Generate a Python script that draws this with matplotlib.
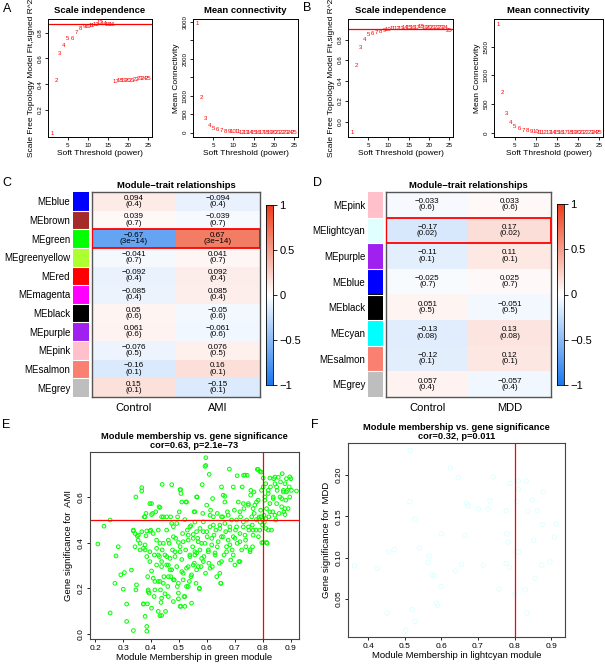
import numpy as np
import matplotlib
matplotlib.use("Agg")
import matplotlib.pyplot as plt
from matplotlib.colors import LinearSegmentedColormap, ListedColormap
from matplotlib.patches import Rectangle

plt.rcParams["font.family"] = ["Liberation Sans", "DejaVu Sans"]

W, H = 605, 668

# ---- soft threshold (A: AMI, B: MDD) ----
powers = list(range(1, 26))
a_fit = [0.02, 0.43, 0.64, 0.70, 0.75, 0.75, 0.80, 0.83, 0.85, 0.85, 0.855, 0.86, 0.88,
         0.87, 0.86, 0.86, 0.42, 0.425, 0.43, 0.43, 0.43, 0.435, 0.44, 0.44, 0.44]
a_conn = [2950, 950, 380, 190, 115, 75, 52, 38, 29, 22, 17, 13, 10, 8, 7, 5, 4, 4, 3, 3,
          2, 2, 2, 1, 1]
b_fit = [-0.11, 0.55, 0.72, 0.80, 0.85, 0.86, 0.87, 0.88, 0.89, 0.90, 0.905, 0.91, 0.91,
         0.915, 0.92, 0.92, 0.92, 0.925, 0.92, 0.92, 0.92, 0.915, 0.915, 0.915, 0.89]
b_conn = [1890, 700, 345, 185, 110, 72, 50, 37, 28, 21, 16, 13, 10, 8, 6, 5, 4, 4, 3, 3,
          2, 2, 2, 1, 1]
a_cut = 0.87
b_cut = 0.90

# ---- module-trait relationships ----
c_modules = ["MEblue", "MEbrown", "MEgreen", "MEgreenyellow", "MEred", "MEmagenta",
             "MEblack", "MEpurple", "MEpink", "MEsalmon", "MEgrey"]
c_colors = ["#0000FF", "#A52A2A", "#00FF00", "#ADFF2F", "#FF0000", "#FF00FF",
            "#000000", "#A020F0", "#FFC0CB", "#FA8072", "#BEBEBE"]
c_traits = ["Control", "AMI"]
c_control = [0.094, 0.039, -0.67, -0.041, -0.092, -0.085, 0.05, 0.061, -0.076, -0.16, 0.15]
c_ami = [-0.094, -0.039, 0.67, 0.041, 0.092, 0.085, -0.05, -0.061, 0.076, 0.16, -0.15]
c_ctrl_txt = ["0.094", "0.039", "-0.67", "-0.041", "-0.092", "-0.085", "0.05", "0.061",
              "-0.076", "-0.16", "0.15"]
c_ami_txt = ["-0.094", "-0.039", "0.67", "0.041", "0.092", "0.085", "-0.05", "-0.061",
             "0.076", "0.16", "-0.15"]
c_pvals = ["0.4", "0.7", "3e-14", "0.7", "0.4", "0.4", "0.6", "0.6", "0.5", "0.1", "0.1"]
c_key = "MEgreen"

d_modules = ["MEpink", "MElightcyan", "MEpurple", "MEblue", "MEblack", "MEcyan",
             "MEsalmon", "MEgrey"]
d_colors = ["#FFC0CB", "#E0FFFF", "#A020F0", "#0000FF", "#000000", "#00FFFF",
            "#FA8072", "#BEBEBE"]
d_traits = ["Control", "MDD"]
d_control = [-0.033, -0.17, -0.11, -0.025, 0.051, -0.13, -0.12, 0.057]
d_mdd = [0.033, 0.17, 0.11, 0.025, -0.051, 0.13, 0.12, -0.057]
d_ctrl_txt = ["-0.033", "-0.17", "-0.11", "-0.025", "0.051", "-0.13", "-0.12", "0.057"]
d_mdd_txt = ["0.033", "0.17", "0.11", "0.025", "-0.051", "0.13", "0.12", "-0.057"]
d_pvals = ["0.6", "0.02", "0.1", "0.7", "0.5", "0.08", "0.1", "0.4"]
d_key = "MElightcyan"

# ---- MM vs GS, green module (AMI) ----
e_points = np.array([
    (0.21, 0.394), (0.232, 0.472), (0.254, 0.499), (0.254, 0.092), (0.275, 0.342),
    (0.283, 0.382), (0.271, 0.222), (0.292, 0.259), (0.305, 0.269), (0.301, 0.196),
    (0.313, 0.131), (0.313, 0.055), (0.33, 0.28), (0.337, 0.455), (0.343, 0.44),
    (0.337, 0.015), (0.346, 0.60), (0.346, 0.193), (0.348, 0.215), (0.351, 0.429),
    (0.354, 0.411), (0.361, 0.368), (0.367, 0.641), (0.367, 0.626), (0.373, 0.375),
    (0.373, 0.132), (0.376, 0.513), (0.379, 0.39), (0.382, 0.43), (0.382, 0.528),
    (0.385, 0.339), (0.387, 0.132), (0.388, 0.251), (0.385, 0.033), (0.385, 0.012),
    (0.39, 0.193), (0.393, 0.179), (0.396, 0.571), (0.399, 0.455), (0.402, 0.113),
    (0.402, 0.276), (0.406, 0.528), (0.408, 0.44), (0.411, 0.164), (0.412, 0.346),
    (0.414, 0.23), (0.417, 0.535), (0.42, 0.375), (0.42, 0.411), (0.426, 0.455),
    (0.429, 0.557), (0.43, 0.339), (0.432, 0.23), (0.434, 0.193), (0.436, 0.138),
    (0.438, 0.081), (0.438, 0.295), (0.44, 0.368), (0.444, 0.513), (0.444, 0.397),
    (0.446, 0.251), (0.45, 0.176), (0.452, 0.099), (0.456, 0.455), (0.456, 0.339),
    (0.46, 0.208), (0.462, 0.302), (0.465, 0.397), (0.468, 0.281), (0.47, 0.513),
    (0.471, 0.251), (0.44, 0.655), (0.477, 0.368), (0.48, 0.142), (0.48, 0.47),
    (0.483, 0.237), (0.486, 0.339), (0.488, 0.419), (0.492, 0.295), (0.494, 0.208),
    (0.495, 0.513), (0.498, 0.179), (0.501, 0.535), (0.504, 0.632), (0.504, 0.382),
    (0.507, 0.615), (0.507, 0.121), (0.51, 0.326), (0.51, 0.578), (0.513, 0.44),
    (0.515, 0.266), (0.518, 0.164), (0.521, 0.501), (0.521, 0.121), (0.524, 0.368),
    (0.525, 0.578), (0.527, 0.208), (0.53, 0.455), (0.533, 0.411), (0.533, 0.295),
    (0.537, 0.23), (0.539, 0.339), (0.542, 0.474), (0.543, 0.251), (0.545, 0.135),
    (0.549, 0.382), (0.551, 0.436), (0.554, 0.535), (0.555, 0.31), (0.557, 0.49),
    (0.561, 0.222), (0.563, 0.355), (0.565, 0.60), (0.567, 0.419), (0.569, 0.295),
    (0.573, 0.201), (0.575, 0.462), (0.575, 0.368), (0.579, 0.295), (0.581, 0.397),
    (0.583, 0.654), (0.585, 0.528), (0.587, 0.448), (0.589, 0.339), (0.593, 0.734),
    (0.596, 0.772), (0.595, 0.266), (0.599, 0.564), (0.601, 0.426), (0.605, 0.368),
    (0.607, 0.31), (0.608, 0.699), (0.611, 0.469), (0.613, 0.542), (0.617, 0.39),
    (0.619, 0.295), (0.623, 0.513), (0.625, 0.433), (0.629, 0.355), (0.632, 0.455),
    (0.635, 0.251), (0.637, 0.382), (0.64, 0.404), (0.644, 0.31), (0.646, 0.477),
    (0.649, 0.222), (0.652, 0.644), (0.652, 0.426), (0.656, 0.513), (0.658, 0.608),
    (0.661, 0.346), (0.664, 0.578), (0.667, 0.448), (0.67, 0.382), (0.673, 0.535),
    (0.676, 0.411), (0.68, 0.722), (0.682, 0.469), (0.685, 0.324), (0.688, 0.499),
    (0.69, 0.368), (0.694, 0.426), (0.694, 0.644), (0.698, 0.542), (0.70, 0.302),
    (0.702, 0.455), (0.706, 0.499), (0.708, 0.693), (0.708, 0.397), (0.712, 0.578),
    (0.714, 0.317), (0.718, 0.44), (0.72, 0.513), (0.724, 0.368), (0.726, 0.644),
    (0.73, 0.469), (0.732, 0.549), (0.736, 0.696), (0.738, 0.411), (0.739, 0.382),
    (0.742, 0.499), (0.744, 0.695), (0.748, 0.571), (0.75, 0.455), (0.754, 0.368),
    (0.756, 0.608), (0.76, 0.513), (0.762, 0.477), (0.763, 0.382), (0.765, 0.433),
    (0.768, 0.622), (0.769, 0.528), (0.771, 0.564), (0.775, 0.455), (0.777, 0.501),
    (0.78, 0.721), (0.783, 0.586), (0.784, 0.426), (0.787, 0.513), (0.789, 0.712),
    (0.792, 0.542), (0.795, 0.629), (0.796, 0.40), (0.799, 0.477), (0.801, 0.683),
    (0.804, 0.52), (0.807, 0.586), (0.81, 0.658), (0.811, 0.462), (0.813, 0.549),
    (0.815, 0.397), (0.819, 0.615), (0.821, 0.513), (0.825, 0.571), (0.827, 0.644),
    (0.831, 0.455), (0.835, 0.535), (0.837, 0.60), (0.839, 0.68), (0.843, 0.658),
    (0.846, 0.499), (0.849, 0.571), (0.851, 0.629), (0.855, 0.686), (0.858, 0.528),
    (0.861, 0.60), (0.863, 0.666), (0.867, 0.557), (0.869, 0.702), (0.873, 0.622),
    (0.875, 0.535), (0.879, 0.658), (0.882, 0.586), (0.884, 0.68), (0.887, 0.629),
    (0.89, 0.549), (0.894, 0.644), (0.896, 0.60), (0.902, 0.629), (0.90, 0.68),
    (0.92, 0.626),
    (0.474, 0.654), (0.506, 0.632), (0.527, 0.578), (0.432, 0.554), (0.402, 0.571),
    (0.402, 0.523), (0.379, 0.513), (0.438, 0.513), (0.456, 0.513), (0.474, 0.484),
    (0.492, 0.484), (0.539, 0.469), (0.337, 0.451), (0.355, 0.433), (0.367, 0.448),
    (0.385, 0.451), (0.396, 0.451), (0.432, 0.397), (0.462, 0.411), (0.48, 0.426),
    (0.498, 0.401), (0.515, 0.404), (0.533, 0.433), (0.551, 0.419), (0.563, 0.448),
    (0.343, 0.382), (0.361, 0.397), (0.379, 0.368), (0.396, 0.36), (0.426, 0.346),
    (0.45, 0.346), (0.468, 0.331), (0.486, 0.36), (0.504, 0.36), (0.539, 0.346),
    (0.557, 0.36), (0.396, 0.317), (0.42, 0.302), (0.438, 0.317), (0.456, 0.302),
    (0.474, 0.281), (0.51, 0.273), (0.527, 0.288), (0.545, 0.259), (0.563, 0.281),
    (0.408, 0.244), (0.426, 0.23), (0.444, 0.222), (0.462, 0.251), (0.48, 0.237),
    (0.498, 0.222), (0.515, 0.237), (0.533, 0.208), (0.39, 0.186), (0.414, 0.193),
    (0.438, 0.157), (0.462, 0.164), (0.498, 0.154), (0.521, 0.164), (0.504, 0.121),
    (0.426, 0.099), (0.432, 0.08), (0.379, 0.077), (0.373, 0.131),
    (0.596, 0.738), (0.563, 0.60), (0.557, 0.535), (0.62, 0.593), (0.664, 0.603),
    (0.731, 0.695), (0.757, 0.629), (0.783, 0.721), (0.794, 0.709), (0.825, 0.683),
    (0.843, 0.687), (0.896, 0.688), (0.801, 0.644), (0.819, 0.629), (0.849, 0.644),
    (0.873, 0.629), (0.884, 0.622), (0.807, 0.60), (0.837, 0.593), (0.867, 0.593),
    (0.879, 0.549), (0.879, 0.523), (0.843, 0.52), (0.825, 0.535), (0.794, 0.513),
    (0.777, 0.578), (0.765, 0.549), (0.748, 0.564), (0.73, 0.571), (0.718, 0.535),
    (0.676, 0.52), (0.652, 0.513), (0.637, 0.528), (0.611, 0.52), (0.587, 0.491),
    (0.599, 0.448), (0.623, 0.477), (0.646, 0.462), (0.664, 0.484), (0.682, 0.455),
    (0.706, 0.469), (0.73, 0.491), (0.748, 0.469), (0.765, 0.455), (0.789, 0.455),
    (0.801, 0.401), (0.813, 0.401), (0.819, 0.455), (0.569, 0.404), (0.593, 0.397),
    (0.617, 0.419), (0.658, 0.426), (0.682, 0.39), (0.70, 0.419), (0.718, 0.404),
    (0.736, 0.433), (0.754, 0.36), (0.718, 0.317), (0.694, 0.346), (0.67, 0.36),
    (0.652, 0.317), (0.629, 0.346), (0.605, 0.36), (0.581, 0.331), (0.557, 0.346),
    (0.551, 0.302), (0.611, 0.288), (0.646, 0.266), (0.65, 0.222), (0.573, 0.198),
    (0.587, 0.317), (0.80, 0.50), (0.805, 0.49), (0.79, 0.49), (0.81, 0.505),
    (0.785, 0.505),
])

# ---- MM vs GS, lightcyan module (MDD) ----
f_points = np.array([
    (0.363, 0.090), (0.425, 0.087), (0.457, 0.107), (0.471, 0.110), (0.452, 0.033),
    (0.503, 0.012), (0.521, 0.037), (0.528, 0.023), (0.514, 0.168), (0.528, 0.147),
    (0.540, 0.112), (0.567, 0.102), (0.564, 0.094), (0.575, 0.079), (0.581, 0.078),
    (0.587, 0.045), (0.590, 0.042), (0.601, 0.129), (0.599, 0.065), (0.515, 0.230),
    (0.625, 0.209), (0.646, 0.197), (0.665, 0.127), (0.669, 0.166), (0.655, 0.092),
    (0.639, 0.084), (0.674, 0.163), (0.715, 0.091), (0.701, 0.159), (0.728, 0.159),
    (0.733, 0.169), (0.742, 0.198), (0.758, 0.062), (0.777, 0.157), (0.779, 0.129),
    (0.783, 0.119), (0.777, 0.093), (0.786, 0.088), (0.788, 0.190), (0.811, 0.193),
    (0.811, 0.183), (0.806, 0.168), (0.801, 0.056), (0.811, 0.107), (0.832, 0.193),
    (0.836, 0.156), (0.829, 0.061), (0.834, 0.033), (0.849, 0.170), (0.852, 0.121),
    (0.857, 0.075), (0.862, 0.157), (0.875, 0.091), (0.879, 0.180), (0.876, 0.140),
    (0.897, 0.095), (0.909, 0.125), (0.914, 0.141),
])

e_module, e_trait, e_stats = "green", "AMI", "cor=0.63, p=2.1e-73"
f_module, f_trait, f_stats = "lightcyan", "MDD", "cor=0.32, p=0.011"
mm_cut, gs_cut = 0.8, 0.5

cmap = LinearSegmentedColormap.from_list("bwr_wgcna", ["#1A78EE", "#FFFFFF", "#EE3C18"])

fig = plt.figure(figsize=(W / 100, H / 100), dpi=100)


def px_axes(left, top, right, bottom):
    return fig.add_axes([left / W, 1 - bottom / H, (right - left) / W, (bottom - top) / H])


def minus(s):
    return s.replace("-", "\u2212")


def vertical_yticks(ax):
    for lbl in ax.get_yticklabels():
        lbl.set_rotation(90)
        lbl.set_va("center")


def draw_sft(ax, values, title, ylabel, ylim, yticks, yticklabels, cut=None):
    for p, v in zip(powers, values):
        ax.text(p, v, str(p), color="red", fontsize=4.3, ha="center", va="center")
    if cut is not None:
        ax.axhline(cut, color="red", lw=0.9)
    ax.set_xlim(0.04, 25.96)
    ax.set_ylim(*ylim)
    ax.set_xticks([5, 10, 15, 20, 25])
    ax.set_yticks(yticks)
    ax.set_yticklabels(yticklabels)
    ax.tick_params(length=2.5, width=0.6, labelsize=4.5, pad=1.5)
    vertical_yticks(ax)
    ax.set_title(title, fontsize=6.8, fontweight="bold", pad=4)
    ax.set_xlabel("Soft Threshold (power)", fontsize=6, labelpad=2)
    ax.set_ylabel(ylabel, fontsize=6, labelpad=2)
    for s in ax.spines.values():
        s.set_linewidth(0.7)


sft_label = "Scale Free Topology Model Fit,signed R^2"
ax = px_axes(48, 19, 152, 137)
draw_sft(ax, a_fit, "Scale independence", sft_label, (-0.01, 0.905),
         [0.2, 0.4, 0.6, 0.8], ["0.2", "0.4", "0.6", "0.8"], a_cut)
ax = px_axes(193, 19, 298, 137)
draw_sft(ax, a_conn, "Mean connectivity", "Mean Connectivity", (-120, 3070),
         [0, 500, 1000, 1500, 2000, 2500, 3000],
         ["0", "500", "1000", "", "2000", "", "3000"])
ax = px_axes(348, 19, 453, 137)
draw_sft(ax, b_fit, "Scale independence", sft_label, (-0.15, 1.0),
         [0.0, 0.2, 0.4, 0.6, 0.8], ["0.0", "0.2", "0.4", "0.6", "0.8"], b_cut)
ax = px_axes(494, 19, 603, 137)
draw_sft(ax, b_conn, "Mean connectivity", "Mean Connectivity", (-70, 1980),
         [0, 500, 1000, 1500], ["0", "500", "1000", "1500"])


def draw_heatmap(box, colbox, cbarbox, modules, colors, traits, cols, texts, pvals, key):
    vals = np.column_stack(cols)
    n = len(modules)
    ax = px_axes(*box)
    ax.imshow(vals, cmap=cmap, vmin=-1, vmax=1, aspect="auto", interpolation="nearest")
    for j, col_txt in enumerate(texts):
        for i in range(n):
            ax.text(j, i, minus(col_txt[i]) + "\n(" + minus(pvals[i]) + ")",
                    ha="center", va="center", fontsize=5.8, linespacing=0.85)
    k = modules.index(key)
    ax.add_patch(Rectangle((-0.5, k - 0.5), len(traits), 1, fill=False,
                           ec="red", lw=1.3, zorder=5))
    ax.set_xticks(range(len(traits)))
    ax.set_xticklabels(traits, fontsize=8)
    ax.set_yticks([])
    ax.tick_params(axis="x", length=0, pad=4)
    for s in ax.spines.values():
        s.set_color("#555555")
        s.set_linewidth(1)
    ax.set_title("Module\u2212trait relationships", fontsize=6.8, fontweight="bold", pad=3)

    cax = px_axes(*colbox)
    cax.imshow(np.arange(n).reshape(-1, 1), cmap=ListedColormap(colors), aspect="auto",
               interpolation="nearest")
    for i in range(n - 1):
        cax.axhline(i + 0.5, color="white", lw=0.8)
    cax.set_xticks([])
    cax.set_yticks(range(n))
    cax.set_yticklabels(modules, fontsize=7)
    cax.tick_params(axis="y", length=0, pad=2)
    for s in cax.spines.values():
        s.set_visible(False)

    bax = px_axes(*cbarbox)
    bax.imshow(np.linspace(-1, 1, 256).reshape(-1, 1), cmap=cmap, aspect="auto",
               origin="lower", extent=[0, 1, -1, 1])
    bax.set_xticks([])
    bax.yaxis.tick_right()
    bax.set_yticks([-1, -0.5, 0, 0.5, 1])
    bax.set_yticklabels(["\u22121", "\u22120.5", "0", "0.5", "1"], fontsize=8)
    bax.tick_params(axis="y", length=3, width=0.6, pad=1.5)
    for s in bax.spines.values():
        s.set_linewidth(0.6)


draw_heatmap((92, 192, 260, 397), (73, 192, 89, 397), (266, 205, 273, 385),
             c_modules, c_colors, c_traits, [c_control, c_ami], [c_ctrl_txt, c_ami_txt],
             c_pvals, c_key)
draw_heatmap((386, 192, 551, 397), (368, 192, 383, 397), (557, 204, 564, 385),
             d_modules, d_colors, d_traits, [d_control, d_mdd], [d_ctrl_txt, d_mdd_txt],
             d_pvals, d_key)


def draw_mm_gs(box, pts, color, module, trait, stats, xlim, ylim, xticks, yticks, yfmt,
               size, hline=True):
    ax = px_axes(*box)
    ax.scatter(pts[:, 0], pts[:, 1], s=size, facecolors="none", edgecolors=color,
               linewidths=0.7)
    ax.axvline(mm_cut, color="red", lw=0.9)
    if hline:
        ax.axhline(gs_cut, color="red", lw=0.9)
    ax.set_xlim(*xlim)
    ax.set_ylim(*ylim)
    ax.set_xticks(xticks)
    ax.set_yticks(yticks)
    ax.set_yticklabels([yfmt.format(v) for v in yticks])
    ax.tick_params(length=2.5, width=0.6, labelsize=6, pad=1.5)
    vertical_yticks(ax)
    ax.set_title("Module membership vs. gene significance\n" + minus(stats),
                 fontsize=6.7, fontweight="bold", pad=3, linespacing=0.95)
    ax.set_xlabel("Module Membership in " + module + " module", fontsize=6.8, labelpad=1)
    ax.set_ylabel("Gene significance for  " + trait, fontsize=6.8, labelpad=3)
    for s in ax.spines.values():
        s.set_color("#444444")
        s.set_linewidth(0.8)


draw_mm_gs((90, 452, 299, 639), e_points, "#00FF00", e_module, e_trait, e_stats,
           (0.182, 0.929), (-0.022, 0.797), [0.2, 0.3, 0.4, 0.5, 0.6, 0.7, 0.8, 0.9],
           [0.0, 0.2, 0.4, 0.6], "{:.1f}", 7)
draw_mm_gs((348, 443, 565, 637), f_points, "#E0FFFF", f_module, f_trait, f_stats,
           (0.345, 0.938), (0.004, 0.239), [0.4, 0.5, 0.6, 0.7, 0.8, 0.9],
           [0.05, 0.10, 0.15, 0.20], "{:.2f}", 10, hline=False)

# panel letters
for letter, x, y in [("A", 7, 9), ("B", 307, 8), ("C", 7, 183), ("D", 317, 183),
                     ("E", 6, 425), ("F", 315, 425)]:
    fig.text(x / W, 1 - y / H, letter, fontsize=9, ha="center", va="center")

fig.savefig("out.png", dpi=100)
